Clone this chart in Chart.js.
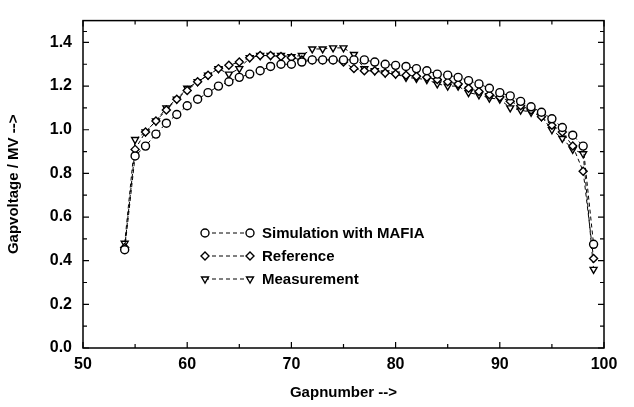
<!DOCTYPE html>
<html>
<head>
<meta charset="utf-8">
<script src="https://cdn.jsdelivr.net/npm/chart.js@4.4.1/dist/chart.umd.min.js"></script>
<style>
  html, body { margin: 0; padding: 0; background: #fff; }
  #wrap { width: 634px; height: 407px; }
</style>
</head>
<body>
<div id="wrap"><canvas id="chart"></canvas></div>
<script>
// --- data ---

const GAPS = [54, 55, 56, 57, 58, 59, 60, 61, 62, 63, 64, 65, 66, 67, 68, 69, 70, 71, 72, 73, 74, 75, 76,
  77, 78, 79, 80, 81, 82, 83, 84, 85, 86, 87, 88, 89, 90, 91, 92, 93, 94, 95, 96, 97, 98, 99];

const SIMULATION = [0.45, 0.88, 0.925, 0.98, 1.03, 1.07, 1.11, 1.14, 1.17, 1.20, 1.22, 1.24, 1.255, 1.27,
  1.29, 1.30, 1.30, 1.31, 1.32, 1.32, 1.32, 1.32, 1.32, 1.32, 1.31, 1.30, 1.295, 1.29, 1.28, 1.27, 1.255,
  1.25, 1.24, 1.225, 1.21, 1.19, 1.17, 1.155, 1.13, 1.105, 1.08, 1.05, 1.01, 0.975, 0.925, 0.475];

const REFERENCE = [0.46, 0.91, 0.99, 1.04, 1.09, 1.14, 1.18, 1.22, 1.25, 1.28, 1.295, 1.31, 1.33, 1.34,
  1.34, 1.335, 1.33, 1.32, 1.32, 1.32, 1.32, 1.31, 1.28, 1.27, 1.27, 1.26, 1.255, 1.25, 1.245, 1.24, 1.23,
  1.22, 1.21, 1.19, 1.175, 1.16, 1.15, 1.13, 1.11, 1.09, 1.06, 1.02, 0.99, 0.925, 0.81, 0.41];

const MEASUREMENT = [0.48, 0.955, 0.99, 1.04, 1.10, 1.14, 1.19, 1.22, 1.25, 1.28, 1.255, 1.28, 1.33, 1.34,
  1.34, 1.34, 1.335, 1.34, 1.37, 1.37, 1.375, 1.375, 1.345, 1.28, 1.27, 1.26, 1.255, 1.24, 1.235, 1.23, 1.21,
  1.20, 1.20, 1.17, 1.16, 1.145, 1.14, 1.10, 1.09, 1.08, 1.06, 1.00, 0.96, 0.91, 0.89, 0.36];

const SERIES_NAMES = ["Simulation with MAFIA", "Reference", "Measurement"];
const X_TICKS = [50, 60, 70, 80, 90, 100];
const Y_TICKS = [0.0, 0.2, 0.4, 0.6, 0.8, 1.0, 1.2, 1.4];

// --- styles ---

const FONT = "'Liberation Sans', Arial, sans-serif";
const MARKERS = [
  { pointStyle: "circle", rotation: 0 },
  { pointStyle: "rectRot", rotation: 0 },
  { pointStyle: "triangle", rotation: 180 },
];
const DASH = [4, 3];

function toPoints(values) {
  return GAPS.map(function (g, i) {
    return { x: g, y: values[i] };
  });
}

function makeDataset(label, values, idx) {
  return {
    label: label,
    data: toPoints(values),
    borderColor: "#000",
    borderWidth: 1,
    borderDash: DASH,
    pointStyle: MARKERS[idx].pointStyle,
    rotation: MARKERS[idx].rotation,
    pointRadius: 4,
    pointBorderWidth: 1.4,
    pointBackgroundColor: "#fff",
    pointBorderColor: "#000",
    tension: 0,
  };
}

// frame with inward ticks on all four sides
const frameTicks = {
  id: "frameTicks",
  afterDraw: function (chart) {
    const ctx = chart.ctx;
    const a = chart.chartArea;
    const xs = chart.scales.x;
    const ys = chart.scales.y;
    ctx.save();
    ctx.strokeStyle = "#000";
    ctx.lineWidth = 1.5;
    ctx.strokeRect(a.left, a.top, a.right - a.left, a.bottom - a.top);
    ctx.lineWidth = 1.2;

    function tickX(v, len) {
      const px = xs.getPixelForValue(v);
      ctx.beginPath();
      ctx.moveTo(px, a.bottom); ctx.lineTo(px, a.bottom - len);
      ctx.moveTo(px, a.top); ctx.lineTo(px, a.top + len);
      ctx.stroke();
    }
    function tickY(v, len) {
      const py = ys.getPixelForValue(v);
      ctx.beginPath();
      ctx.moveTo(a.left, py); ctx.lineTo(a.left + len, py);
      ctx.moveTo(a.right, py); ctx.lineTo(a.right - len, py);
      ctx.stroke();
    }
    X_TICKS.forEach(function (v, i) {
      tickX(v, 6);
      if (i < X_TICKS.length - 1) tickX((v + X_TICKS[i + 1]) / 2, 4);
    });
    Y_TICKS.forEach(function (v, i) {
      tickY(v, 6);
      const next = i < Y_TICKS.length - 1 ? Y_TICKS[i + 1] : ys.max;
      tickY((v + next) / 2, 4);
    });
    ctx.restore();
  },
};

// legend inside the plot: marker - - - marker  label
const LEGEND_X1 = 205;
const LEGEND_X2 = 250;
const LEGEND_TEXT_X = 262;
const LEGEND_Y0 = 233;
const LEGEND_STEP = 23;

const insideLegend = {
  id: "insideLegend",
  afterDraw: function (chart) {
    const ctx = chart.ctx;
    ctx.save();
    SERIES_NAMES.forEach(function (name, i) {
      const y = LEGEND_Y0 + i * LEGEND_STEP;
      ctx.strokeStyle = "#000";
      ctx.lineWidth = 1;
      ctx.setLineDash(DASH);
      ctx.beginPath();
      ctx.moveTo(LEGEND_X1, y);
      ctx.lineTo(LEGEND_X2, y);
      ctx.stroke();
      ctx.setLineDash([]);
      ctx.fillStyle = "#fff";
      ctx.lineWidth = 1.4;
      const opts = { pointStyle: MARKERS[i].pointStyle, rotation: MARKERS[i].rotation, radius: 4, borderWidth: 1.4 };
      Chart.helpers.drawPoint(ctx, opts, LEGEND_X1, y);
      Chart.helpers.drawPoint(ctx, opts, LEGEND_X2, y);
      ctx.fillStyle = "#000";
      ctx.font = "bold 15px " + FONT;
      ctx.textBaseline = "middle";
      ctx.textAlign = "left";
      ctx.fillText(name, LEGEND_TEXT_X, y + 1);
    });
    ctx.restore();
  },
};

const chartInstance = new Chart(document.getElementById("chart"), {
  type: "line",
  data: {
    datasets: [
      makeDataset(SERIES_NAMES[0], SIMULATION, 0),
      makeDataset(SERIES_NAMES[1], REFERENCE, 1),
      makeDataset(SERIES_NAMES[2], MEASUREMENT, 2),
    ],
  },
  options: {
    responsive: true,
    maintainAspectRatio: false,
    animation: false,
    layout: { padding: { left: 0, top: 8, right: 30, bottom: 0 } },
    plugins: { legend: { display: false }, tooltip: { enabled: false } },
    scales: {
      x: {
        type: "linear",
        min: 50,
        max: 100,
        grid: { display: false, drawTicks: false },
        border: { display: false },
        afterBuildTicks: function (scale) {
          scale.ticks = X_TICKS.map(function (v) { return { value: v }; });
        },
        afterFit: function (scale) { scale.height = 59; },
        ticks: {
          color: "#000",
          padding: 7,
          maxRotation: 0,
          font: { family: FONT, size: 16, weight: "bold" },
          callback: function (v) { return String(v); },
        },
        title: {
          display: true,
          text: "Gapnumber -->",
          color: "#000",
          padding: { top: 0, bottom: 5 },
          font: { family: FONT, size: 15, weight: "bold" },
        },
      },
      y: {
        type: "linear",
        min: 0,
        max: 1.5,
        grid: { display: false, drawTicks: false },
        border: { display: false },
        afterBuildTicks: function (scale) {
          scale.ticks = Y_TICKS.map(function (v) { return { value: v }; });
        },
        afterFit: function (scale) { scale.width = 83; },
        ticks: {
          color: "#000",
          padding: 11,
          font: { family: FONT, size: 16, weight: "bold" },
          callback: function (v) { return Number(v).toFixed(1); },
        },
        title: {
          display: true,
          text: "Gapvoltage / MV -->",
          color: "#000",
          padding: { top: 5, bottom: 0 },
          font: { family: FONT, size: 15, weight: "bold" },
        },
      },
    },
  },
  plugins: [frameTicks, insideLegend],
});
</script>
</body>
</html>
